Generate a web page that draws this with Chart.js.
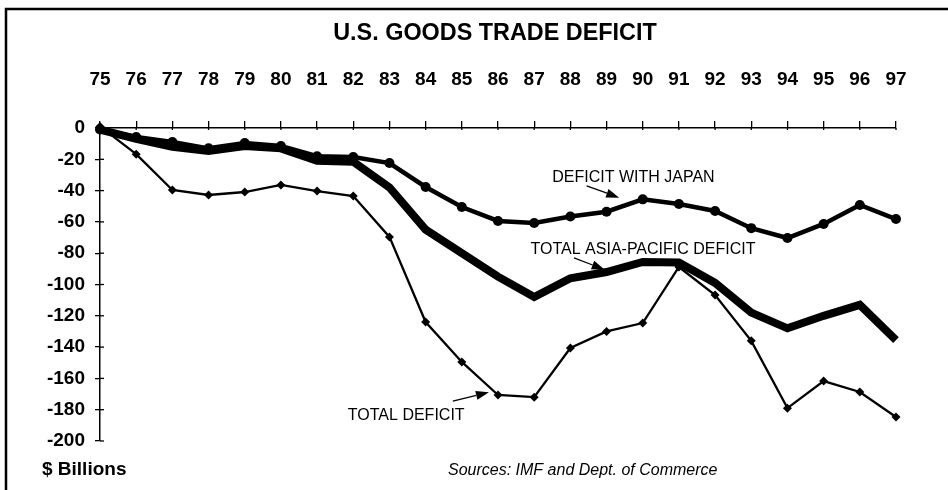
<!DOCTYPE html>
<html><head><meta charset="utf-8">
<script src="https://cdn.jsdelivr.net/npm/chart.js@4.4.1/dist/chart.umd.min.js"></script>
<style>html,body{margin:0;padding:0;background:#fff;} #wrap{width:948px;height:490px;position:relative;}</style>
</head><body><div id="wrap"><canvas id="c" width="948" height="490"></canvas></div>
<script>
const years = ['75','76','77','78','79','80','81','82','83','84','85','86','87','88','89','90','91','92','93','94','95','96','97'];
const japanDeficit = [-1, -5.8, -9, -13, -9.6, -11.5, -18, -18.5, -22.4, -37.7, -50.5, -59.4, -60.7, -56.6, -53.5, -45.6, -48.6, -53, -64, -70.3, -61.3, -49.2, -58.2];
const asiaPacificDeficit = [-1, -7, -12, -14.7, -11.5, -13, -21, -21.5, -38, -65, -80, -95, -108, -96, -92, -85.6, -86, -99, -118, -128, -120, -113, -135.5];
const totalDeficit = [1, -16.7, -39.6, -42.8, -40.9, -36.4, -40.3, -43.5, -69.6, -124, -149.5, -170.6, -172, -140.6, -130, -124.6, -88.8, -106.7, -136, -179, -161.7, -168.7, -184.7];
const yMin = -200, yMax = 0, yStep = 20;
const titleText = 'U.S. GOODS TRADE DEFICIT';
const unitText = '$ Billions';
const sourceText = 'Sources: IMF and Dept. of Commerce';
// annotations: [text, labelIndex, labelValue, arrowFromIdx, arrowFromVal, arrowToIdx, arrowToVal]
const notes = [
  ['DEFICIT WITH JAPAN', 12.5, -32, 13.45, -37, 14.35, -44.5],
  ['TOTAL ASIA-PACIFIC DEFICIT', 11.9, -78, 13.1, -83, 13.95, -90.5],
  ['TOTAL DEFICIT', 6.85, -184, 9.75, -174.5, 10.75, -168.8]
];

const FONT = '"Liberation Sans", Arial, sans-serif';

function arrow(ctx, x1, y1, x2, y2) {
  const a = Math.atan2(y2 - y1, x2 - x1);
  const L = 13, W = 4.5;
  ctx.beginPath();
  ctx.moveTo(x1, y1);
  ctx.lineTo(x2 - L * Math.cos(a), y2 - L * Math.sin(a));
  ctx.lineWidth = 1.3; ctx.strokeStyle = '#000'; ctx.stroke();
  ctx.beginPath();
  ctx.moveTo(x2, y2);
  ctx.lineTo(x2 - L * Math.cos(a) + W * Math.sin(a), y2 - L * Math.sin(a) - W * Math.cos(a));
  ctx.lineTo(x2 - L * Math.cos(a) - W * Math.sin(a), y2 - L * Math.sin(a) + W * Math.cos(a));
  ctx.closePath(); ctx.fillStyle = '#000'; ctx.fill();
}

const decor = {
  id: 'decor',
  beforeDraw(chart) {
    const ctx = chart.ctx;
    ctx.save();
    ctx.fillStyle = '#fff';
    ctx.fillRect(0, 0, chart.width, chart.height);
    ctx.strokeStyle = '#000'; ctx.lineWidth = 2.5;
    ctx.beginPath();
    ctx.moveTo(6, 490); ctx.lineTo(6, 9); ctx.lineTo(948, 9);
    ctx.stroke();
    ctx.restore();
  },
  afterDraw(chart) {
    const ctx = chart.ctx, xs = chart.scales.x, ys = chart.scales.y;
    ctx.save();
    ctx.fillStyle = '#000';
    ctx.textBaseline = 'middle';
    ctx.textAlign = 'center';
    ctx.font = 'bold 23.4px ' + FONT;
    ctx.fillText(titleText, 495, 34);
    ctx.textAlign = 'left';
    ctx.font = 'bold 19px ' + FONT;
    ctx.fillText(unitText, 42, 470);
    ctx.font = 'italic 16px ' + FONT;
    ctx.fillText(sourceText, 448, 471);
    // inner halves of y ticks
    ctx.strokeStyle = '#000'; ctx.lineWidth = 1.3;
    ys.ticks.forEach(t => {
      const y = ys.getPixelForValue(t.value);
      ctx.beginPath(); ctx.moveTo(xs.left, y); ctx.lineTo(xs.left + 4, y); ctx.stroke();
    });
    // x tick small part below axis
    xs.ticks.forEach((t, i) => {
      const x = xs.getPixelForValue(i);
      ctx.beginPath(); ctx.moveTo(x, ys.top); ctx.lineTo(x, ys.top + 2); ctx.stroke();
    });
    ctx.font = '16px ' + FONT;
    notes.forEach(n => {
      ctx.fillText(n[0], xs.getPixelForValue(n[1]), ys.getPixelForValue(n[2]));
      arrow(ctx, xs.getPixelForValue(n[3]), ys.getPixelForValue(n[4]), xs.getPixelForValue(n[5]), ys.getPixelForValue(n[6]));
    });
    ctx.restore();
  }
};

new Chart(document.getElementById('c'), {
  type: 'line',
  data: {
    labels: years,
    datasets: [
      { label: 'Deficit with Japan', data: japanDeficit, order: 0, borderColor: '#000', backgroundColor: '#000',
        borderWidth: 4.5, pointStyle: 'circle', pointRadius: 5, pointBorderWidth: 0, tension: 0, clip: false },
      { label: 'Total Asia-Pacific Deficit', data: asiaPacificDeficit, order: 1, borderColor: '#000', backgroundColor: '#000',
        borderWidth: 8, pointRadius: 0, tension: 0, borderJoinStyle: 'miter', clip: false },
      { label: 'Total Deficit', data: totalDeficit, order: 2, borderColor: '#000', backgroundColor: '#000',
        borderWidth: 2.3, pointStyle: 'rectRot', pointRadius: 4.5, pointBorderWidth: 0, tension: 0, clip: false }
    ]
  },
  options: {
    responsive: false, animation: false, devicePixelRatio: 1,
    layout: { padding: { left: 0, top: 0, right: 52, bottom: 49 } },
    plugins: { legend: { display: false }, title: { display: false }, tooltip: { enabled: false } },
    scales: {
      x: {
        type: 'category', position: 'top', offset: false,
        grid: { display: true, drawOnChartArea: false, drawTicks: true, tickLength: 7, color: '#000', lineWidth: 1.3 },
        border: { display: true, color: '#000', width: 1.5 },
        ticks: { color: '#000', font: { family: FONT, size: 19, weight: 'bold' }, padding: 30, maxRotation: 0, autoSkip: false },
        afterFit(s) { s.height = 128; }
      },
      y: {
        min: yMin, max: yMax,
        grid: { display: true, drawOnChartArea: false, drawTicks: true, tickLength: 5, color: '#000', lineWidth: 1.3 },
        border: { display: true, color: '#000', width: 1.5 },
        ticks: { stepSize: yStep, color: '#000', font: { family: FONT, size: 19, weight: 'bold' }, padding: 10 },
        afterFit(s) { s.width = 100; }
      }
    }
  },
  plugins: [decor]
});
</script></body></html>
